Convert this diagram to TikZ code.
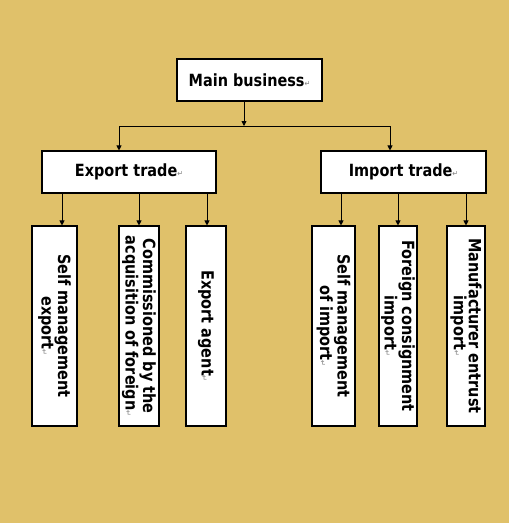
\documentclass[tikz,border=0pt]{standalone}
\usepackage{fontspec}
\setmainfont{DejaVu Sans}[FakeStretch=0.86]
\usetikzlibrary{arrows.meta}
\definecolor{sand}{RGB}{224,193,106}
\tikzset{
	box/.style={draw=black,fill=white,line width=1.1pt,inner sep=0pt,font=\bfseries\fontsize{16.8}{15}\selectfont},
	upbox/.style={box,rotate=-90,align=center,minimum width=200pt},
	wire/.style={line width=0.8pt},
	link/.style={wire,-{Triangle[length=5pt,width=5pt]}},
}
\newcommand{\pmark}{{\color{gray}\mdseries\fontsize{8}{8}\selectfont ↵}}
\begin{document}
\begin{tikzpicture}[x=1pt,y=-1pt]
	\fill[sand] (0,0) rectangle (509,523);
	\useasboundingbox (0,0) rectangle (509,523);
	\node[box,minimum width=145pt,minimum height=42pt] (main) at (249.5,80) {Main business\pmark};
	\node[box,minimum width=174pt,minimum height=42pt] (export) at (129,172) {Export trade\pmark};
	\node[box,minimum width=165pt,minimum height=42pt] (import) at (403.5,172) {Import trade\pmark};
	\node[upbox,minimum height=45pt] (selfexp) at (54.5,326) {Self management\\export\pmark};
	\node[upbox,minimum height=40pt] (commis) at (139,326) {Commissioned by the\\acquisition of foreign\pmark};
	\node[upbox,minimum height=40pt] (agent) at (206,326) {Export agent\pmark};
	\node[upbox,minimum height=43pt] (selfimp) at (333.5,326) {Self management\\of import\pmark};
	\node[upbox,minimum height=38pt] (consign) at (398,326) {Foreign consignment\\import\pmark};
	\node[upbox,minimum height=38pt] (entrust) at (466,326) {Manufacturer entrust\\import\pmark};
	\coordinate (split) at (244,126);
	\coordinate (lt) at (119,126);
	\coordinate (rt) at (390,126);
	\draw[link] (main.south -| split) -- (split);
	\draw[wire] (lt) -- (rt);
	\draw[link] (lt) -- (lt |- export.north);
	\draw[link] (rt) -- (rt |- import.north);
	\draw[link] ([xshift=7.5pt]selfexp.west |- export.south) -- ([xshift=7.5pt]selfexp.west);
	\draw[link] (commis.west |- export.south) -- (commis.west);
	\draw[link] ([xshift=1pt]agent.west |- export.south) -- ([xshift=1pt]agent.west);
	\draw[link] ([xshift=7.5pt]selfimp.west |- import.south) -- ([xshift=7.5pt]selfimp.west);
	\draw[link] (consign.west |- import.south) -- (consign.west);
	\draw[link] (entrust.west |- import.south) -- (entrust.west);
\end{tikzpicture}
\end{document}
